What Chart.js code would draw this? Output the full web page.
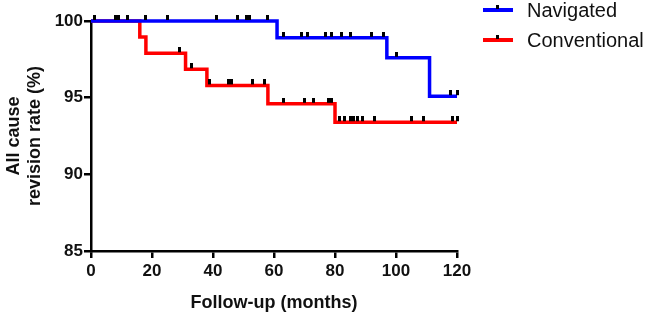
<!DOCTYPE html>
<html>
<head>
<meta charset="utf-8">
<script src="https://cdn.jsdelivr.net/npm/chart.js@4.4.1/dist/chart.umd.min.js"></script>
<style>
    html, body { margin: 0; padding: 0; background: #fff; }
    #wrap { position: relative; width: 645px; height: 315px; }
    .leg-item { position: absolute; left: 483px; height: 20px; }
    .leg-line { position: absolute; left: 0; width: 30px; height: 4px; top: 8px; }
    .leg-tick { position: absolute; left: 13px; width: 3px; height: 4px; top: 5px; background: #000; }
    .leg-text { position: absolute; left: 44px; top: 0; font: 20px "Liberation Sans", Arial, sans-serif; line-height: 20px; color: #111; white-space: nowrap; }
</style>
</head>
<body>
<div id="wrap">
    <canvas id="km" width="645" height="315"></canvas>
    <div class="leg-item" style="top: 0px;">
        <div class="leg-line" style="background: #0000ff;"></div>
        <div class="leg-tick"></div>
        <div class="leg-text">Navigated</div>
    </div>
    <div class="leg-item" style="top: 30px;">
        <div class="leg-line" style="background: #ff0000;"></div>
        <div class="leg-tick"></div>
        <div class="leg-text">Conventional</div>
    </div>
</div>
<script>
// step times (months) and survival (%)
const navTimes = [0, 61, 97, 111, 120];
const navValues = [100, 98.9, 97.6, 95.1, 95.1];
const convTimes = [0, 16, 18, 31, 38, 58, 80, 120];
const convValues = [100, 98.95, 97.9, 96.85, 95.8, 94.6, 93.4, 93.4];

// censored follow-up times (months)
const navCensored = [1, 8, 9, 12, 18, 25, 41, 48, 51, 52, 58, 63, 69, 71, 77, 79, 82, 85, 92, 96, 100, 118, 120];
const convCensored = [29, 33, 39, 45, 46, 53, 57, 63, 70, 73, 78, 79, 81.5, 83, 85, 86, 87.5, 89, 93, 105, 109, 118.5, 120];

const xTicks = [0, 20, 40, 60, 80, 100, 120];
const yTicks = [85, 90, 95, 100];

//..build {x, y} points for step lines
function stepPoints(times, values) {
    return times.map((t, i) => ({ x: t, y: values[i] }));
}

//..censor marks sit on the curve value at that time
function censorPoints(censored, times, values) {
    return censored.map(t => {
        let v = values[0];
        times.forEach((s, i) => { if (s <= t) v = values[i]; });
        return { x: t, y: v };
    });
}

// small vertical tick drawn above the line
const tickImg = document.createElement('canvas');
tickImg.width = 3;
tickImg.height = 12;
const tctx = tickImg.getContext('2d');
tctx.fillStyle = '#000';
tctx.fillRect(0, 0, 3, 5);

const font = "'Liberation Sans', Arial, sans-serif";

new Chart(document.getElementById('km'), {
    type: 'line',
    data: {
        datasets: [
            {
                label: 'Navigated censored',
                data: censorPoints(navCensored, navTimes, navValues),
                showLine: false,
                pointStyle: tickImg,
                pointRadius: 3,
                order: 0,
                clip: false
            },
            {
                label: 'Conventional censored',
                data: censorPoints(convCensored, convTimes, convValues),
                showLine: false,
                pointStyle: tickImg,
                pointRadius: 3,
                order: 0,
                clip: false
            },
            {
                label: 'Navigated',
                data: stepPoints(navTimes, navValues),
                stepped: 'before',
                borderColor: '#0000ff',
                borderWidth: 3.5,
                pointRadius: 0,
                fill: false,
                order: 1,
                clip: false
            },
            {
                label: 'Conventional',
                data: stepPoints(convTimes, convValues),
                stepped: 'before',
                borderColor: '#ff0000',
                borderWidth: 3.5,
                pointRadius: 0,
                fill: false,
                order: 2,
                clip: false
            }
        ]
    },
    options: {
        responsive: false,
        animation: false,
        layout: { padding: { top: 21, right: 188, left: 0, bottom: 0 } },
        scales: {
            x: {
                type: 'linear',
                min: 0,
                max: 120,
                afterBuildTicks: axis => { axis.ticks = xTicks.map(v => ({ value: v })); },
                afterFit: axis => { axis.height = 64; },
                border: { display: true, color: '#000', width: 2.5 },
                grid: { display: true, drawOnChartArea: false, drawTicks: true, tickLength: 7, color: '#000', lineWidth: 2.5 },
                ticks: { color: '#111', padding: 3, font: { family: font, size: 17, weight: 'bold' } },
                title: { display: true, text: 'Follow-up (months)', color: '#111', padding: { top: 13, bottom: 1 }, font: { family: font, size: 18, weight: 'bold' } }
            },
            y: {
                min: 85,
                max: 100,
                afterBuildTicks: axis => { axis.ticks = yTicks.map(v => ({ value: v })); },
                afterFit: axis => { axis.width = 91; },
                border: { display: true, color: '#000', width: 2.5 },
                grid: { display: true, drawOnChartArea: false, drawTicks: true, tickLength: 7, color: '#000', lineWidth: 2.5 },
                ticks: { color: '#111', padding: 1, font: { family: font, size: 17, weight: 'bold' } },
                title: { display: true, text: ['All cause', 'revision rate (%)'], color: '#111', padding: 3, font: { family: font, size: 18, weight: 'bold' } }
            }
        },
        plugins: {
            legend: { display: false },
            tooltip: { enabled: false }
        }
    }
});
</script>
</body>
</html>
